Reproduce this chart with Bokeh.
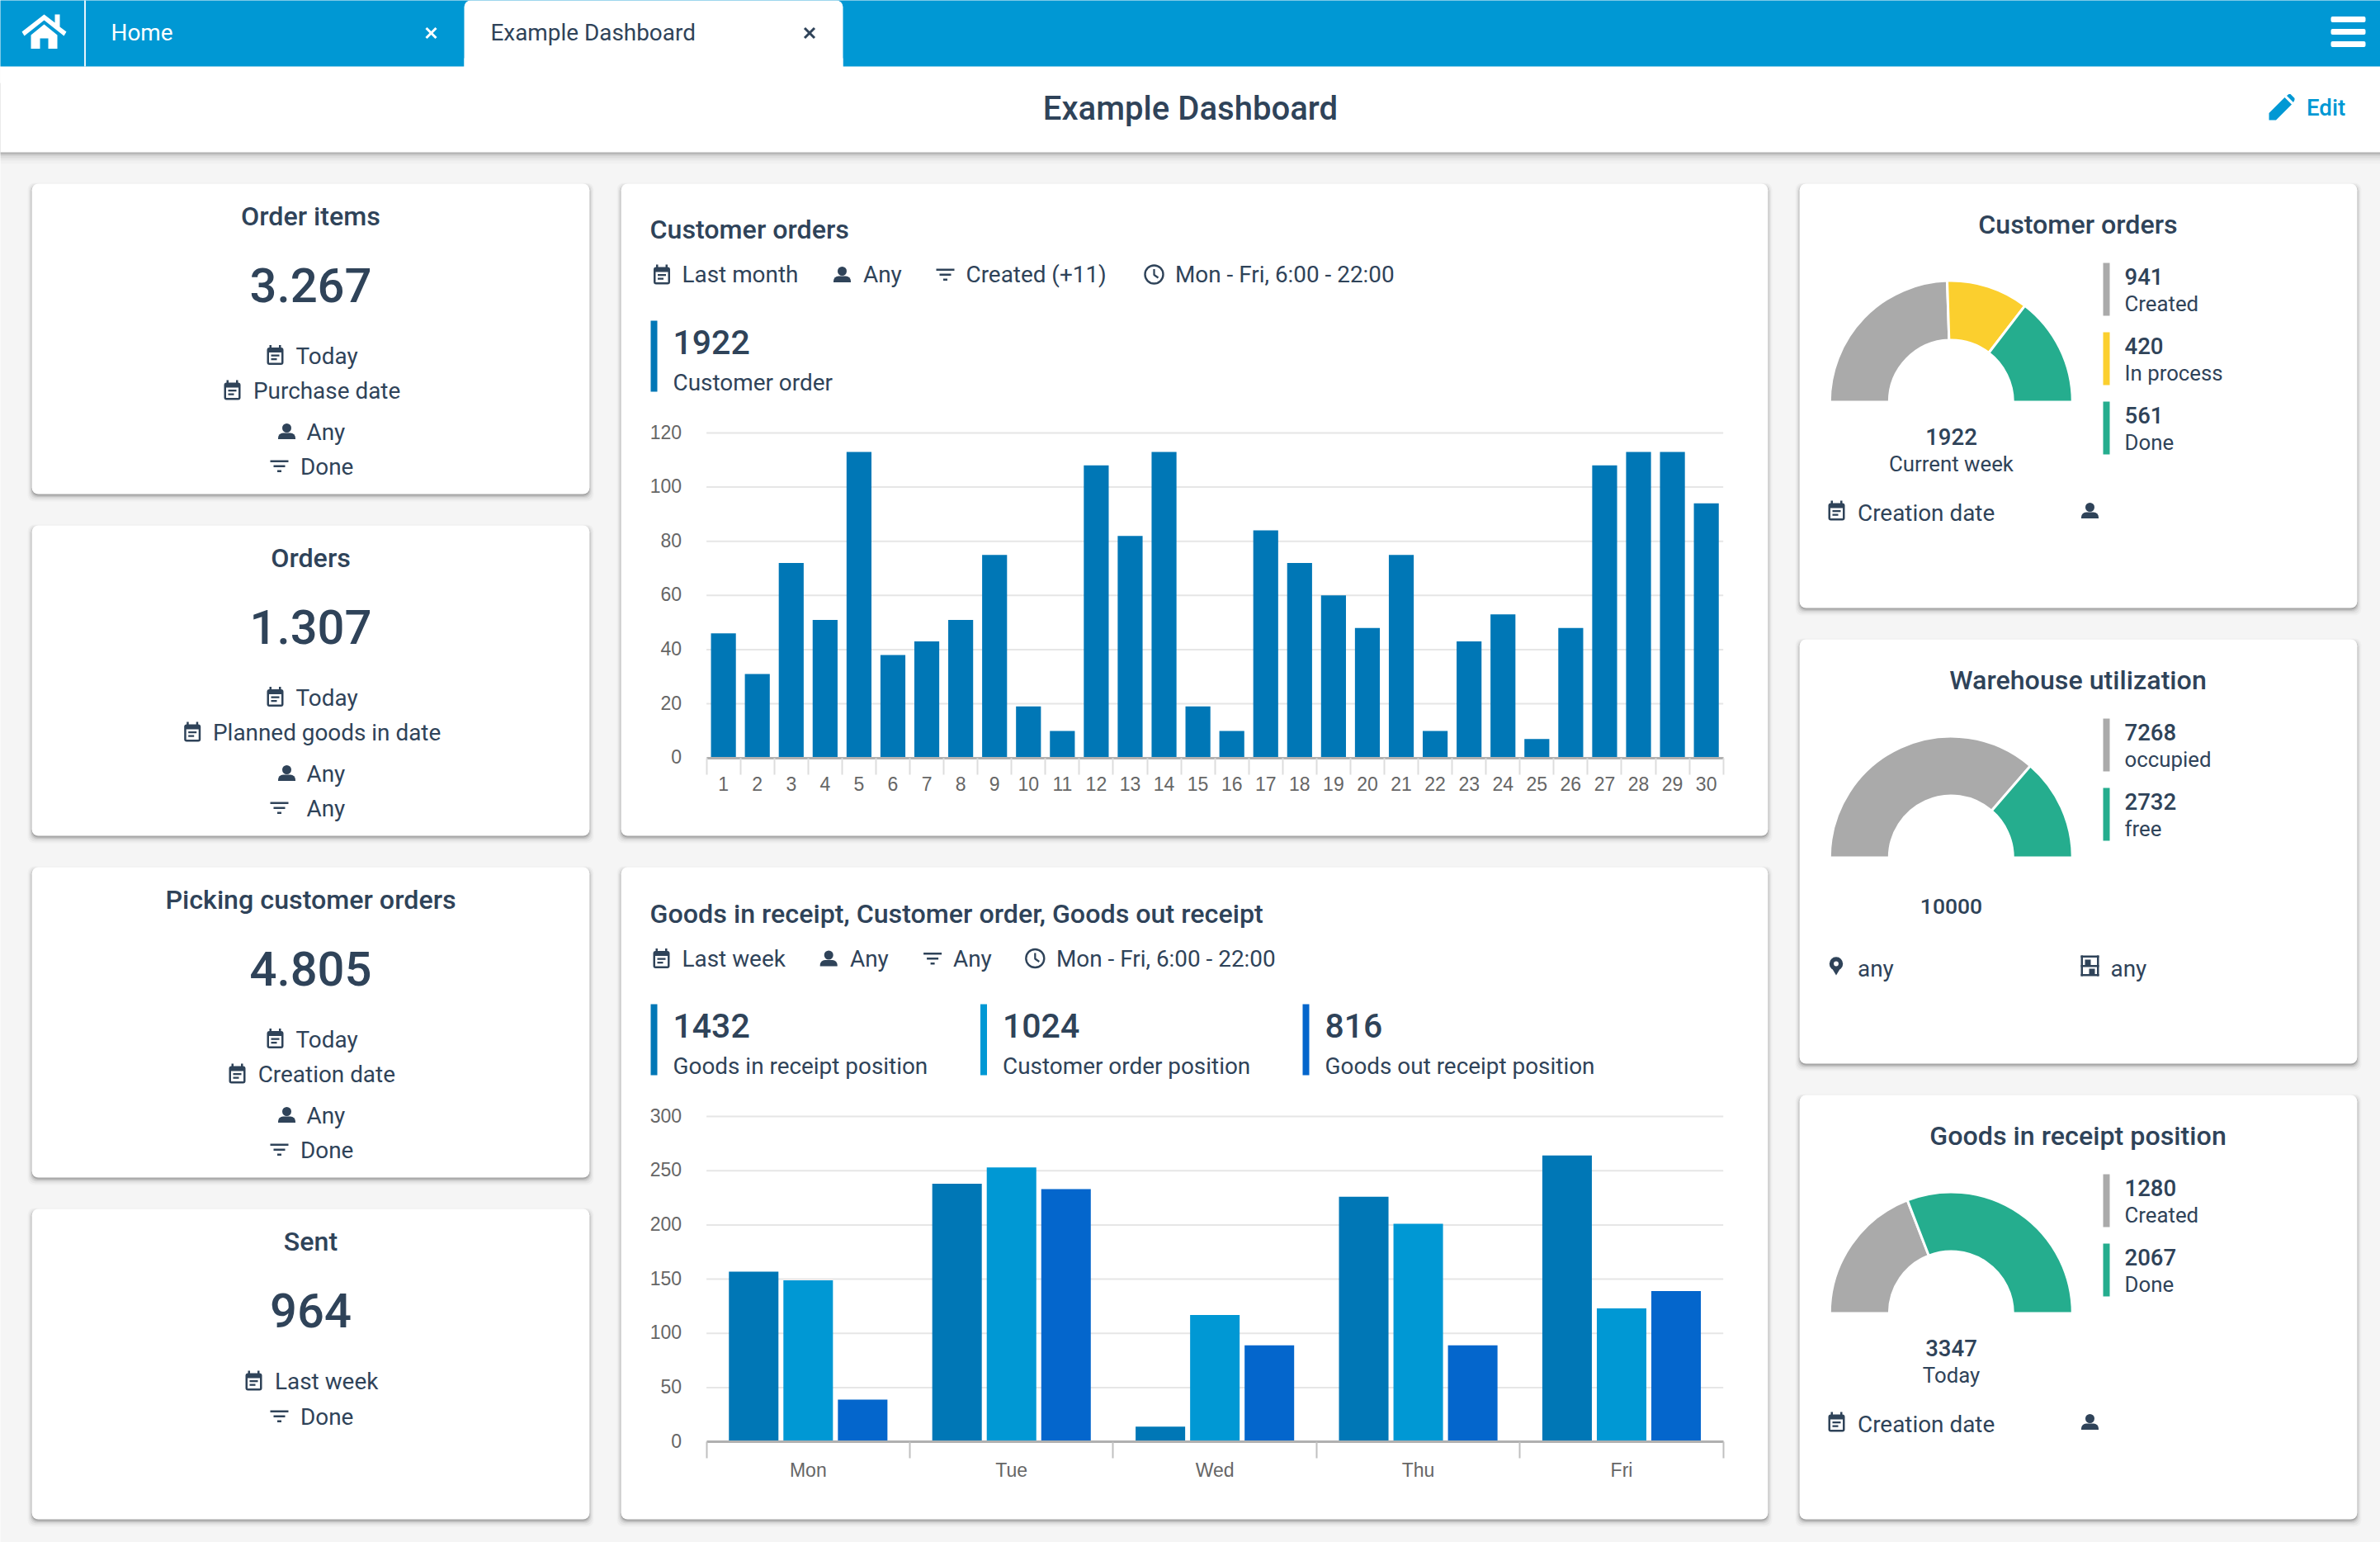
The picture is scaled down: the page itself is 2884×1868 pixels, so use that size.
import numpy as np
from bokeh.plotting import figure
from bokeh.core.properties import value
from bokeh.models import Range1d, LinearAxis, FixedTicker
from bokeh.embed import file_html
from bokeh.resources import INLINE

# ---------- data ----------
DAYS = list(range(1, 31))
DAILY_ORDERS = [46, 31, 72, 51, 113, 38, 43, 51, 75, 19, 10, 108, 82, 113, 19,
                10, 84, 72, 60, 48, 75, 10, 43, 53, 7, 48, 108, 113, 113, 94]
DAILY_TICKS = [0, 20, 40, 60, 80, 100, 120]
WEEKDAYS = ["Mon", "Tue", "Wed", "Thu", "Fri"]
GOODS_IN = [157, 238, 14, 226, 264]
CUSTOMER_POS = [149, 253, 117, 201, 123]
GOODS_OUT = [39, 233, 89, 89, 139]
WEEK_TICKS = [0, 50, 100, 150, 200, 250, 300]

LEFT_TITLES = ["Order items", "Orders", "Picking customer orders", "Sent"]
LEFT_VALUES = ["3.267", "1.307", "4.805", "964"]
LEFT_ROWS = [
    [("cal", "Today"), ("cal", "Purchase date"), ("person", "Any"), ("filter", "Done")],
    [("cal", "Today"), ("cal", "Planned goods in date"), ("person", "Any"), ("filter", "Any")],
    [("cal", "Today"), ("cal", "Creation date"), ("person", "Any"), ("filter", "Done")],
    [("cal", "Last week"), ("filter", "Done")],
]

GAUGE_TITLES = ["Customer orders", "Warehouse utilization", "Goods in receipt position"]
GAUGE_VALUES = [[941, 420, 561], [7268, 2732], [1280, 2067]]
GAUGE_LABELS = [["Created", "In process", "Done"], ["occupied", "free"], ["Created", "Done"]]
GAUGE_TOTALS = ["1922", "10000", "3347"]
GAUGE_PERIODS = ["Current week", "", "Today"]

# ---------- style ----------
HEADER = "#0098d4"
DARK = "#2f4359"
BG = "#f5f5f5"
C1, C2, C3 = "#0077b6", "#0098d4", "#0466cc"
GRAY, YELLOW, GREEN = "#aaaaaa", "#fbcf2e", "#25ad8e"
GAUGE_COLORS = [[GRAY, YELLOW, GREEN], [GRAY, GREEN], [GRAY, GREEN]]
MED = "Roboto Medium"
REG = "Roboto"
SMALL = 27.9
TITLE = 32.2

F0, F1 = 0, 2884
H = 1868


def Y(py):
    return H - py


p = figure(width=F1 - F0, height=H, output_backend="svg", toolbar_location=None,
           x_range=Range1d(F0, F1), y_range=Range1d(0, H),
           x_axis_location=None, y_axis_location=None, min_border=0,
           background_fill_color=BG, border_fill_color=BG, outline_line_color=None)
p.grid.visible = False


def box(x0, x1, y0, y1, color, radius=0, alpha=1.0):
    p.quad(left=[x0], right=[x1], top=[Y(y0)], bottom=[Y(y1)], fill_color=color,
           fill_alpha=alpha, line_color=None, border_radius=radius)


def txt(x, y, s, size, font=REG, color=DARK, align="left"):
    p.text(x=[x], y=[Y(y)], text=[s], text_font=value(font), text_font_size=f"{size}px",
           text_color=color, text_align=align, text_baseline="middle")


def poly(points, color):
    p.patch([a for a, _ in points], [Y(b) for _, b in points], fill_color=color, line_color=None)


def card(x0, x1, y0, y1):
    for grow, dy, a in [(5, 4, .025), (3.5, 3.5, .04), (2, 3, .06), (1, 2.5, .09), (0, 2, .14)]:
        box(x0 - grow, x1 + grow, y0 - grow + dy, y1 + grow + dy, "#000000", radius=8, alpha=a)
    box(x0, x1, y0, y1, "#ffffff", radius=8)


def ico_cal(cx, cy):
    box(cx - 10, cx + 10, cy - 9, cy + 12, DARK, radius=3)
    box(cx - 7.5, cx + 7.5, cy - 3, cy + 9.5, "#ffffff")
    box(cx - 7, cx - 4.5, cy - 12, cy - 8, DARK)
    box(cx + 4.5, cx + 7, cy - 12, cy - 8, DARK)
    box(cx - 5, cx + 5, cy - 0.5, cy + 1.8, DARK)
    box(cx - 5, cx + 2, cy + 4, cy + 6.3, DARK)


def ico_person(cx, cy):
    p.circle(x=[cx], y=[Y(cy - 4)], radius=5.5, fill_color=DARK, line_color=None)
    box(cx - 10.5, cx + 10.5, cy + 2, cy + 9.5, DARK, radius=(6, 6, 0, 0))


def ico_filter(cx, cy):
    box(cx - 11, cx + 11, cy - 7, cy - 4.5, DARK)
    box(cx - 7, cx + 7, cy - 1, cy + 1.5, DARK)
    box(cx - 2.5, cx + 2.5, cy + 5, cy + 7.5, DARK)


def ico_clock(cx, cy):
    p.circle(x=[cx], y=[Y(cy)], radius=11, fill_color=None, line_color=DARK, line_width=2.4)
    p.line([cx, cx, cx + 5], [Y(cy - 6.5), Y(cy + 0.5), Y(cy + 4)], line_color=DARK, line_width=2.2)


def ico_pin(cx, cy):
    poly([(cx - 7.8, cy - 2), (cx + 7.8, cy - 2), (cx, cy + 11)], DARK)
    p.circle(x=[cx], y=[Y(cy - 3)], radius=8.2, fill_color=DARK, line_color=None)
    p.circle(x=[cx], y=[Y(cy - 3)], radius=2.9, fill_color="#ffffff", line_color=None)


def ico_store(cx, cy):
    box(cx - 11, cx - 8.5, cy - 13, cy + 12, DARK)
    box(cx + 8.5, cx + 11, cy - 13, cy + 12, DARK)
    box(cx - 11, cx + 11, cy - 13, cy - 10.5, DARK)
    box(cx - 11, cx + 11, cy - 1.5, cy + 1, DARK)
    box(cx - 11, cx + 11, cy + 9.5, cy + 12, DARK)
    box(cx - 6, cx + 1, cy - 8, cy - 1.5, DARK)
    box(cx - 1, cx + 6, cy + 3, cy + 9.5, DARK)


ICONS = {"cal": ico_cal, "person": ico_person, "filter": ico_filter, "clock": ico_clock,
         "pin": ico_pin, "store": ico_store}

# ---------- header ----------
for grow, a in [(14, .02), (10, .03), (7, .05), (4, .08), (2, .12)]:
    box(F0 - 10, F1 + 10, 100, 184 + grow, "#000000", alpha=a)
box(F0 - 10, F1 + 10, 80, 184, "#ffffff")
box(F0 - 10, F1 + 10, -10, 80, HEADER)
box(101.5, 103.5, -10, 80, "#ffffff", alpha=0.9)
box(562, 1021, 0, 96, "#ffffff", radius=8)
box(562, 1021, 70, 84, "#ffffff")
poly([(26, 38), (53, 17), (66, 27), (66, 17), (72, 17), (72, 32), (80, 38), (77, 43), (53, 24), (29, 43)], "#ffffff")
poly([(53, 29), (69, 42), (69, 58.5), (58, 58.5), (58, 46), (48, 46), (48, 58.5), (37, 58.5), (37, 42)], "#ffffff")
txt(134, 38.5, "Home", SMALL, font=REG, color="#ffffff")
txt(594, 38.5, "Example Dashboard", SMALL, font=REG)
for cx, col in [(522, "#ffffff"), (980.5, DARK)]:
    p.multi_line([[cx - 6, cx + 6], [cx - 6, cx + 6]], [[Y(33.5), Y(45.5)], [Y(45.5), Y(33.5)]],
                 line_color=col, line_width=3)
for y0, y1 in [(19.5, 26.5), (34.5, 41.5), (49.5, 56.5)]:
    box(2824, 2866, y0, y1, "#ffffff", radius=2)
txt(1442, 130.5, "Example Dashboard", 40, font=MED, align="center")
poly([(2749, 145), (2749, 136.5), (2768, 117.5), (2776.5, 126), (2757.5, 145)], HEADER)
poly([(2770.5, 115.5), (2773, 113.5), (2775, 113.5), (2780, 118.5), (2780, 120.5), (2778.5, 123.5)], HEADER)
txt(2794.5, 130, "Edit", 27.6, font=MED, color=HEADER)

# ---------- left cards ----------
LEFT_TOPS = [222, 636, 1050, 1464]
ROW_DY = [[208.5, 251, 301, 343]] * 3 + [[209, 252]]
ROW_ICON_X = [[333, 281, 347, 338], [333, 232.7, 347, 338], [333, 287, 347, 338], [307, 338]]
ROW_TEXT_X = [[358, 306.5, 371, 363.5], [358, 257.5, 371, 371], [358, 312.2, 371, 363.5], [332.5, 363.5]]
for i, top in enumerate(LEFT_TOPS):
    card(38, 714, top, top + 376)
    txt(376, top + 39, LEFT_TITLES[i], TITLE, font=MED, align="center")
    txt(376, top + 123, LEFT_VALUES[i], 58, font=MED, align="center")
    for (kind, label), dy, ix, tx in zip(LEFT_ROWS[i], ROW_DY[i], ROW_ICON_X[i], ROW_TEXT_X[i]):
        ICONS[kind](ix, top + dy - 1)
        txt(tx, top + dy, label, SMALL)


# ---------- middle cards with real scales and axes ----------
def mapped(p0, v0, p1, v1, f0, f1):
    k = (v1 - v0) / (p1 - p0)
    return Range1d(v0 + (f0 - p0) * k, v0 + (f1 - p0) * k)


AX0, AX1 = 855.6, 2087.7


def chart_frame(name, x_lo, x_hi, y_max, py_zero, py_max, ticks):
    xn, yn = name + "x", name + "y"
    p.extra_x_ranges[xn] = mapped(AX0, x_lo, AX1, x_hi, F0, F1)
    p.extra_y_ranges[yn] = mapped(Y(py_zero), 0, Y(py_max), y_max, 0, H)
    # the tick labels sit a hair above their gridlines in the reference
    p.extra_y_ranges[yn + "l"] = mapped(Y(py_zero - 1.5), 0, Y(py_max - 1.5), y_max, 0, H)
    p.segment(x0=[x_lo] * len(ticks), x1=[x_hi] * len(ticks), y0=ticks, y1=ticks,
              line_color="#e6e6e6", line_width=2, x_range_name=xn, y_range_name=yn)
    ya = LinearAxis(x_range_name=xn, y_range_name=yn + "l", fixed_location=x_lo,
                    ticker=FixedTicker(ticks=ticks), axis_line_color=None,
                    major_tick_line_color=None, minor_tick_line_color=None,
                    major_tick_out=0, major_tick_in=0, major_label_standoff=30,
                    major_label_text_font="Liberation Sans", major_label_text_font_size="23px",
                    major_label_text_color="#666666")
    p.add_layout(ya, "left")
    return xn, yn


def chart_axes(xn, yn, x_lo, x_hi, boundaries, centers, overrides, tick_color, standoff):
    xa = LinearAxis(x_range_name=xn, y_range_name=yn, fixed_location=0, bounds=(x_lo, x_hi),
                    ticker=FixedTicker(ticks=boundaries), axis_line_color="#b0b0b0", axis_line_width=3,
                    major_tick_line_color=tick_color, major_tick_line_width=2,
                    minor_tick_line_color=None, major_tick_out=20, major_tick_in=0,
                    major_label_text_font_size="0px", major_label_text_color=None)
    p.add_layout(xa, "below")
    xl = LinearAxis(x_range_name=xn, y_range_name=yn, fixed_location=0,
                    ticker=FixedTicker(ticks=centers), axis_line_color=None,
                    major_tick_line_color=None, minor_tick_line_color=None,
                    major_tick_out=0, major_tick_in=0, major_label_standoff=standoff,
                    major_label_overrides=overrides,
                    major_label_text_font="Liberation Sans", major_label_text_font_size="23px",
                    major_label_text_color="#666666")
    p.add_layout(xl, "below")


def row_items(items, y):
    for kind, ix, tx, label in items:
        ICONS[kind](ix, y)
        txt(tx, y, label, SMALL)


def kpi(x, y0, y1, color, val, label):
    box(x, x + 8, y0, y1, color)
    txt(x + 27, y0 + 25.5, val, 41, font=MED)
    txt(x + 27, y0 + 75, label, SMALL)


# chart 1
card(752, 2142, 222, 1012)
txt(787, 277, "Customer orders", TITLE, font=MED)
row_items([("cal", 801.5, 826, "Last month"), ("person", 1020, 1045.5, "Any"),
           ("filter", 1145, 1170, "Created (+11)"), ("clock", 1398, 1423.5, "Mon - Fri, 6:00 - 22:00")], 332)
kpi(788, 388, 474, C1, "1922", "Customer order")
xn, yn = chart_frame("a", 0.5, 30.5, 120, 917.7, 524, DAILY_TICKS)
p.vbar(x=DAYS, top=DAILY_ORDERS, bottom=0, width=0.735, fill_color=C1, line_color=None,
       x_range_name=xn, y_range_name=yn)
chart_axes(xn, yn, 0.5, 30.5, [d - 0.5 for d in DAYS] + [30.5], DAYS, {}, "#dddddd", 23)

# chart 2
card(752, 2142, 1050, 1840)
txt(787, 1106, "Goods in receipt, Customer order, Goods out receipt", TITLE, font=MED)
row_items([("cal", 801, 826, "Last week"), ("person", 1003.7, 1029.5, "Any"),
           ("filter", 1129.6, 1154.5, "Any"), ("clock", 1253.8, 1279.5, "Mon - Fri, 6:00 - 22:00")], 1160.5)
kpi(788, 1216, 1302, C1, "1432", "Goods in receipt position")
kpi(1187.5, 1216, 1302, C2, "1024", "Customer order position")
kpi(1578, 1216, 1302, C3, "816", "Goods out receipt position")
xn, yn = chart_frame("b", 0.5, 5.5, 300, 1746.2, 1352, WEEK_TICKS)
WK = np.arange(1, 6)
for series, off, col in [(GOODS_IN, -0.268, C1), (CUSTOMER_POS, 0, C2), (GOODS_OUT, 0.268, C3)]:
    p.vbar(x=WK + off, top=series, bottom=0, width=0.2436, fill_color=col, line_color=None,
           x_range_name=xn, y_range_name=yn)
chart_axes(xn, yn, 0.5, 5.5, [0.5, 1.5, 2.5, 3.5, 4.5, 5.5], [1, 2, 3, 4, 5],
           {i + 1: d for i, d in enumerate(WEEKDAYS)}, "#c0c0c0", 21)

# ---------- gauge cards ----------
RIGHT_TOPS = [222, 774, 1326]
RIGHT_H = [514, 514, 514]
LEG_PITCH = 84
TOTAL_DY = [306, 323, 306]
TOTAL_SIZE = [27.6, 26.5, 27.6]
FOOTERS = [[("cal", 2225, 2250.5, "Creation date"), ("person", 2532, 0, "")],
           [("pin", 2224.5, 2250.5, "any"), ("store", 2532, 2557, "any")],
           [("cal", 2225, 2250.5, "Creation date"), ("person", 2532, 0, "")]]
for i, top in enumerate(RIGHT_TOPS):
    card(2180, 2856, top, top + RIGHT_H[i])
    txt(2517.5, top + 49.5, GAUGE_TITLES[i], TITLE, font=MED, align="center")
    vals = np.array(GAUGE_VALUES[i], dtype=float)
    cum = np.concatenate([[0], np.cumsum(vals)]) / vals.sum() * np.pi
    p.annular_wedge(x=[2363.8] * len(vals), y=[Y(top + 264.5)] * len(vals), inner_radius=75, outer_radius=147,
                    start_angle=np.pi - cum[1:], end_angle=np.pi - cum[:-1],
                    fill_color=GAUGE_COLORS[i], line_color="#ffffff", line_width=3)
    box(2210, 2520, top + 264.5, top + 269, "#ffffff")
    leg_top = top + 96
    for j, v in enumerate(GAUGE_VALUES[i]):
        y0 = leg_top + j * LEG_PITCH
        box(2548, 2556, y0, y0 + 64, GAUGE_COLORS[i][j])
        txt(2574, y0 + 16, str(v), 27.6, font=MED)
        txt(2574, y0 + 49.5, GAUGE_LABELS[i][j], 25.8)
    txt(2364, top + TOTAL_DY[i], GAUGE_TOTALS[i], TOTAL_SIZE[i], font=MED, align="center")
    if GAUGE_PERIODS[i]:
        txt(2364, top + 339, GAUGE_PERIODS[i], 25.8, align="center")
    for kind, ix, tx, label in FOOTERS[i]:
        ICONS[kind](ix, top + 396)
        if label:
            txt(tx, top + 398.5, label, SMALL)

open("out.html", "w").write(file_html(p, INLINE))
